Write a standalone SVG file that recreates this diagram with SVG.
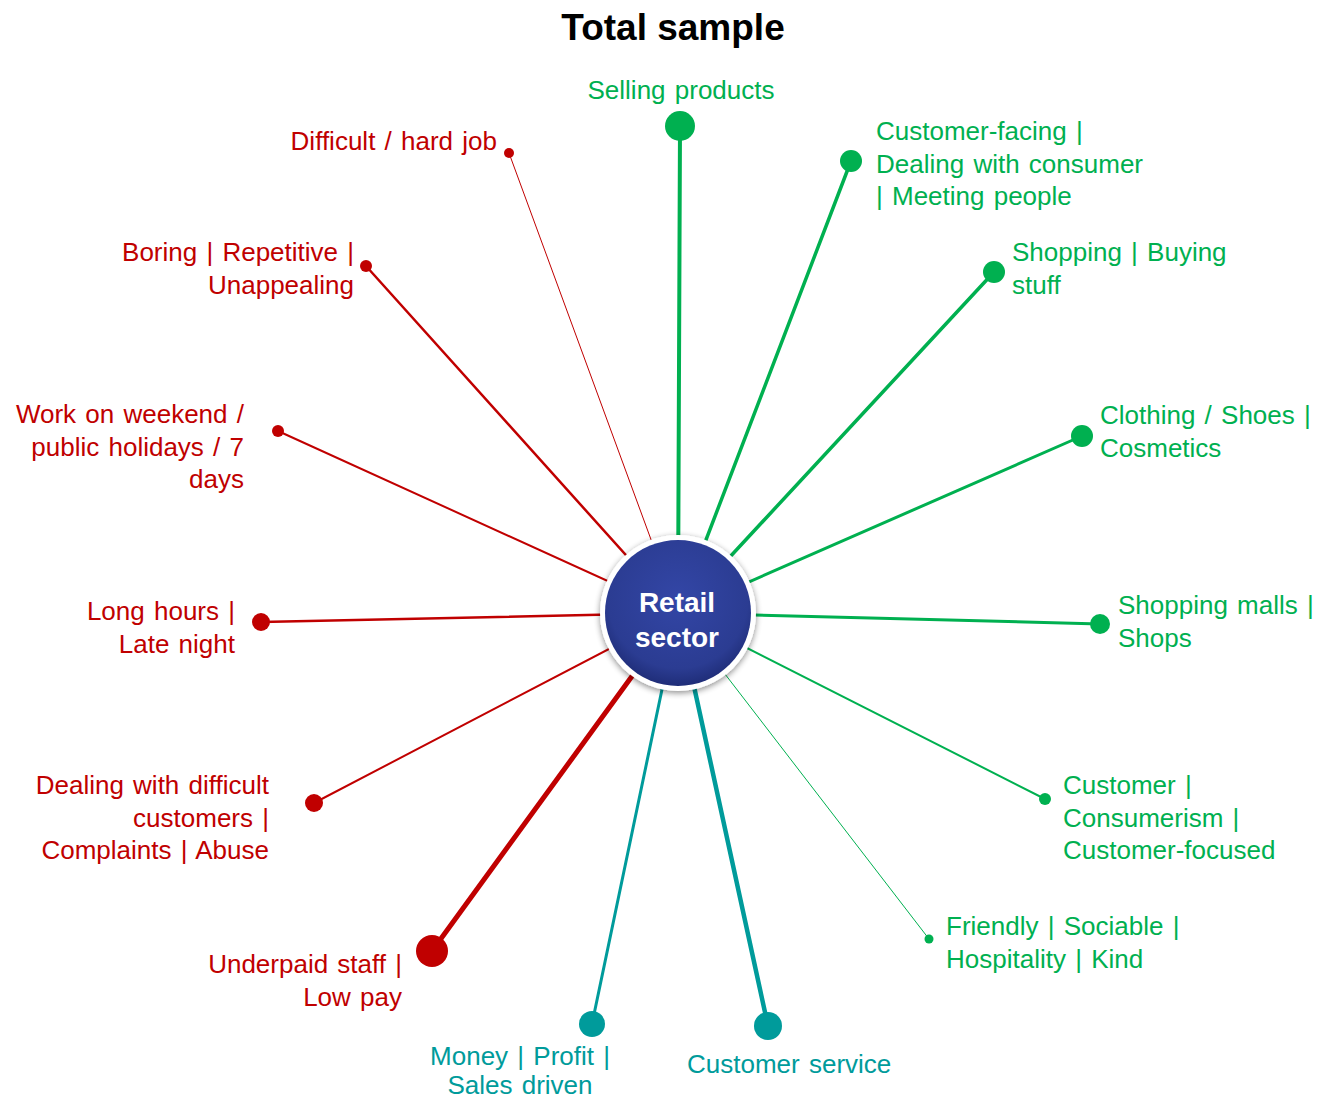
<svg xmlns="http://www.w3.org/2000/svg" width="1327" height="1100" viewBox="0 0 1327 1100">
<style>
  .t{font-family:"Liberation Sans",Arial,sans-serif;font-size:26px;word-spacing:2px}
  .r{fill:#C00000}.g{fill:#00B050}.b{fill:#009B9B}
  .lr{stroke:#C00000}.lg{stroke:#00B050}.lb{stroke:#009B9B}
  .e{text-anchor:end}.m{text-anchor:middle}
</style>
<defs>
  <radialGradient id="hub" cx="50%" cy="40%" r="60%">
    <stop offset="0" stop-color="#3346A6"/>
    <stop offset="0.8" stop-color="#2B3C92"/>
    <stop offset="1" stop-color="#1F2D78"/>
  </radialGradient>
  <filter id="sh" x="-20%" y="-20%" width="140%" height="140%">
    <feGaussianBlur in="SourceAlpha" stdDeviation="3"/>
    <feOffset dx="0" dy="2" result="o"/>
    <feComponentTransfer><feFuncA type="linear" slope="0.45"/></feComponentTransfer>
    <feMerge><feMergeNode/><feMergeNode in="SourceGraphic"/></feMerge>
  </filter>
</defs>
<rect width="1327" height="1100" fill="#fff"/>
<text x="673" y="40" class="m" style="font-family:'Liberation Sans',Arial,sans-serif;font-size:37px;font-weight:bold" fill="#000">Total sample</text>

<g id="connectors" fill="none" stroke-linecap="round">
  <line x1="678" y1="613" x2="680" y2="126" class="lg" stroke-width="4"/>
  <line x1="678" y1="613" x2="851" y2="161" class="lg" stroke-width="3.5"/>
  <line x1="678" y1="613" x2="994" y2="272" class="lg" stroke-width="3.5"/>
  <line x1="678" y1="613" x2="1082" y2="436" class="lg" stroke-width="3"/>
  <line x1="678" y1="613" x2="1100" y2="624" class="lg" stroke-width="3"/>
  <line x1="678" y1="613" x2="1045" y2="799" class="lg" stroke-width="2"/>
  <line x1="678" y1="613" x2="929" y2="939" class="lg" stroke-width="1"/>
  <line x1="678" y1="613" x2="768" y2="1026" class="lb" stroke-width="4.5"/>
  <line x1="678" y1="613" x2="592" y2="1024" class="lb" stroke-width="3"/>
  <line x1="678" y1="613" x2="432" y2="951" class="lr" stroke-width="5"/>
  <line x1="678" y1="613" x2="314" y2="803" class="lr" stroke-width="2"/>
  <line x1="678" y1="613" x2="261" y2="622" class="lr" stroke-width="2.5"/>
  <line x1="678" y1="613" x2="278" y2="431" class="lr" stroke-width="2"/>
  <line x1="678" y1="613" x2="366" y2="266" class="lr" stroke-width="2.5"/>
  <line x1="678" y1="613" x2="509" y2="153" class="lr" stroke-width="1"/>
</g>

<g id="hub">
  <circle cx="678" cy="613" r="78" fill="#fff" filter="url(#sh)"/>
  <circle cx="678" cy="613" r="73" fill="url(#hub)"/>
  <text x="677" y="612" class="m" style="font-family:'Liberation Sans',Arial,sans-serif;font-size:28px;font-weight:bold" fill="#fff">Retail</text>
  <text x="677" y="647" class="m" style="font-family:'Liberation Sans',Arial,sans-serif;font-size:28px;font-weight:bold" fill="#fff">sector</text>
</g>

<g id="n-selling"><circle cx="680" cy="126" r="15" class="g"/><text x="681" y="99" class="t g m">Selling products</text></g>
<g id="n-customer-facing"><circle cx="851" cy="161" r="11" class="g"/><text class="t g"><tspan x="876" y="140">Customer-facing |</tspan><tspan x="876" y="173">Dealing with consumer</tspan><tspan x="876" y="205">| Meeting people</tspan></text></g>
<g id="n-shopping"><circle cx="994" cy="272" r="11" class="g"/><text class="t g"><tspan x="1012" y="261">Shopping | Buying</tspan><tspan x="1012" y="294">stuff</tspan></text></g>
<g id="n-clothing"><circle cx="1082" cy="436" r="11" class="g"/><text class="t g"><tspan x="1100" y="424">Clothing / Shoes |</tspan><tspan x="1100" y="457">Cosmetics</tspan></text></g>
<g id="n-malls"><circle cx="1100" cy="624" r="10" class="g"/><text class="t g"><tspan x="1118" y="614">Shopping malls |</tspan><tspan x="1118" y="647">Shops</tspan></text></g>
<g id="n-customer"><circle cx="1045" cy="799" r="6" class="g"/><text class="t g"><tspan x="1063" y="794">Customer |</tspan><tspan x="1063" y="827">Consumerism |</tspan><tspan x="1063" y="859">Customer-focused</tspan></text></g>
<g id="n-friendly"><circle cx="929" cy="939" r="4.5" class="g"/><text class="t g"><tspan x="946" y="935">Friendly | Sociable |</tspan><tspan x="946" y="968">Hospitality | Kind</tspan></text></g>
<g id="n-service"><circle cx="768" cy="1026" r="14" class="b"/><text x="687" y="1073" class="t b">Customer service</text></g>
<g id="n-money"><circle cx="592" cy="1024" r="13" class="b"/><text class="t b m"><tspan x="520" y="1065">Money | Profit |</tspan><tspan x="520" y="1094">Sales driven</tspan></text></g>
<g id="n-underpaid"><circle cx="432" cy="951" r="16" class="r"/><text class="t r e"><tspan x="402" y="973">Underpaid staff |</tspan><tspan x="402" y="1006">Low pay</tspan></text></g>
<g id="n-difficult-customers"><circle cx="314" cy="803" r="9" class="r"/><text class="t r e"><tspan x="269" y="794">Dealing with difficult</tspan><tspan x="269" y="827">customers |</tspan><tspan x="269" y="859">Complaints | Abuse</tspan></text></g>
<g id="n-long-hours"><circle cx="261" cy="622" r="9" class="r"/><text class="t r e"><tspan x="235" y="620">Long hours |</tspan><tspan x="235" y="653">Late night</tspan></text></g>
<g id="n-weekend"><circle cx="278" cy="431" r="6" class="r"/><text class="t r e"><tspan x="244" y="423">Work on weekend /</tspan><tspan x="244" y="456">public holidays / 7</tspan><tspan x="244" y="488">days</tspan></text></g>
<g id="n-boring"><circle cx="366" cy="266" r="6" class="r"/><text class="t r e"><tspan x="354" y="261">Boring | Repetitive |</tspan><tspan x="354" y="294">Unappealing</tspan></text></g>
<g id="n-hard-job"><circle cx="509" cy="153" r="5" class="r"/><text x="497" y="150" class="t r e">Difficult / hard job</text></g>
</svg>
